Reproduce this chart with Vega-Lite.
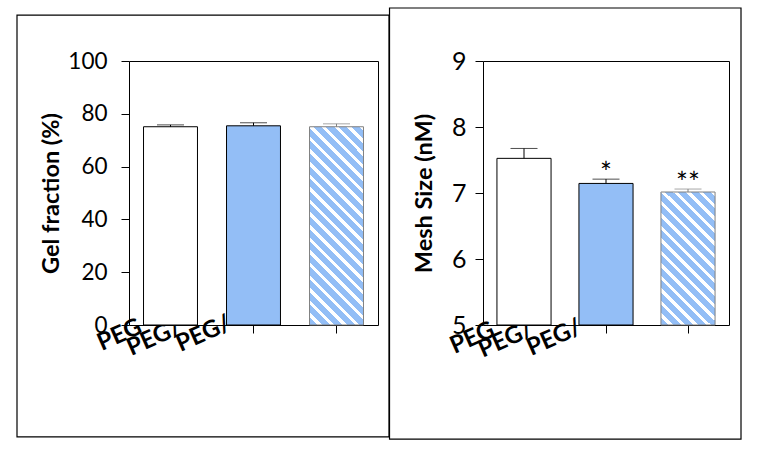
{
  "$schema": "https://vega.github.io/schema/vega-lite/v6.json",
  "padding": {"left": 15, "top": 6, "right": 5, "bottom": 5},
  "background": "white",
  "bounds": "flush",
  "spacing": 105,
  "config": {
    "font": "Lato",
    "view": {"stroke": "black", "strokeWidth": 1},
    "axis": {"labelColor": "black", "titleColor": "black", "tickColor": "black", "grid": false, "domain": false}
  },
  "hconcat": [
    {
      "width": 249,
      "height": 264,
      "resolve": {"scale": {"x": "independent", "y": "independent"}},
      "layer": [
        {
          "data": {"values": [{}]},
          "mark": {"type": "rect", "fill": "transparent", "stroke": "black", "strokeWidth": 1.2},
          "encoding": {
            "x": {"datum": -0.4498, "type": "quantitative", "scale": {"domain": [0, 1], "nice": false, "zero": false}, "axis": null},
            "x2": {"datum": 1.0442},
            "y": {"datum": -0.424, "type": "quantitative", "scale": {"domain": [0, 1], "nice": false, "zero": false}, "axis": null},
            "y2": {"datum": 1.174}
          }
        },
        {
          "data": {"values": [
            {"cat": "PEG", "label": "PEG", "value": 75.1, "err": 75.8, "sig": ""},
            {"cat": "PEG/A", "label": "PEG/", "value": 75.45, "err": 76.6, "sig": ""},
            {"cat": "PEG/B", "label": "PEG/", "value": 75.1, "err": 76.2, "sig": ""}
          ]},
          "encoding": {
            "x": {"field": "cat", "type": "nominal", "sort": null,
              "scale": {"paddingInner": 0.35, "paddingOuter": 0.175},
              "axis": {"title": null, "labels": false, "ticks": true, "tickSize": 8, "values": ["PEG/A", "PEG/B"]}},
            "y": {"field": "value", "type": "quantitative",
              "scale": {"domain": [0, 100], "nice": false, "zero": false},
              "axis": {"title": "Gel fraction (%)", "values": [0, 20, 40, 60, 80, 100], "tickSize": 8,
                "labelFont": "Lato", "labelFontSize": 22.5, "labelPadding": 14,
                "titleFont": "Lato", "titleFontSize": 23.5, "titleFontWeight": "bold", "titlePadding": 4, "zindex": 1}}
          },
          "layer": [
            {
              "transform": [{"filter": "datum.cat == 'PEG'"}],
              "mark": {"type": "text", "angle": 336, "align": "left", "baseline": "alphabetic", "font": "Lato", "fontSize": 24, "fontWeight": "bold", "color": "black", "dx": -73.4, "dy": -4.1},
              "encoding": {"y": {"datum": 0}, "text": {"field": "label"}}
            },
            {
              "transform": [{"filter": "datum.cat == 'PEG/A'"}],
              "mark": {"type": "text", "angle": 336, "align": "left", "baseline": "alphabetic", "font": "Lato", "fontSize": 24, "fontWeight": "bold", "color": "black", "dx": -124.3, "dy": -21.4},
              "encoding": {"y": {"datum": 0}, "text": {"field": "label"}}
            },
            {
              "transform": [{"filter": "datum.cat == 'PEG/B'"}],
              "mark": {"type": "text", "angle": 336, "align": "left", "baseline": "alphabetic", "font": "Lato", "fontSize": 24, "fontWeight": "bold", "color": "black", "dx": -153.5, "dy": -38.7},
              "encoding": {"y": {"datum": 0}, "text": {"field": "label"}}
            },
            {
              "transform": [{"filter": "datum.cat != 'PEG/B'"}],
              "mark": {"type": "bar", "stroke": "black", "strokeWidth": 1},
              "encoding": {
                "y2": {"datum": 0},
                "fill": {"condition": {"test": "datum.cat == 'PEG'", "value": "#ffffff"}, "value": "#93bef6"}
              }
            },
            {
              "transform": [{"filter": "datum.cat == 'PEG/B'"}],
              "mark": {"type": "bar", "stroke": "#808080", "strokeWidth": 1,
                "fill": {"gradient": "linear", "x1": 0, "y1": 1, "x2": 0.3226, "y2": -0.1846, "stops": [
                  {"offset": 0, "color": "#93bef6"}, {"offset": 0.032, "color": "#93bef6"}, {"offset": 0.032, "color": "#ffffff"}, {"offset": 0.05, "color": "#ffffff"},
                  {"offset": 0.05, "color": "#93bef6"}, {"offset": 0.082, "color": "#93bef6"}, {"offset": 0.082, "color": "#ffffff"}, {"offset": 0.1, "color": "#ffffff"},
                  {"offset": 0.1, "color": "#93bef6"}, {"offset": 0.132, "color": "#93bef6"}, {"offset": 0.132, "color": "#ffffff"}, {"offset": 0.15, "color": "#ffffff"},
                  {"offset": 0.15, "color": "#93bef6"}, {"offset": 0.182, "color": "#93bef6"}, {"offset": 0.182, "color": "#ffffff"}, {"offset": 0.2, "color": "#ffffff"},
                  {"offset": 0.2, "color": "#93bef6"}, {"offset": 0.232, "color": "#93bef6"}, {"offset": 0.232, "color": "#ffffff"}, {"offset": 0.25, "color": "#ffffff"},
                  {"offset": 0.25, "color": "#93bef6"}, {"offset": 0.282, "color": "#93bef6"}, {"offset": 0.282, "color": "#ffffff"}, {"offset": 0.3, "color": "#ffffff"},
                  {"offset": 0.3, "color": "#93bef6"}, {"offset": 0.332, "color": "#93bef6"}, {"offset": 0.332, "color": "#ffffff"}, {"offset": 0.35, "color": "#ffffff"},
                  {"offset": 0.35, "color": "#93bef6"}, {"offset": 0.382, "color": "#93bef6"}, {"offset": 0.382, "color": "#ffffff"}, {"offset": 0.4, "color": "#ffffff"},
                  {"offset": 0.4, "color": "#93bef6"}, {"offset": 0.432, "color": "#93bef6"}, {"offset": 0.432, "color": "#ffffff"}, {"offset": 0.45, "color": "#ffffff"},
                  {"offset": 0.45, "color": "#93bef6"}, {"offset": 0.482, "color": "#93bef6"}, {"offset": 0.482, "color": "#ffffff"}, {"offset": 0.5, "color": "#ffffff"},
                  {"offset": 0.5, "color": "#93bef6"}, {"offset": 0.532, "color": "#93bef6"}, {"offset": 0.532, "color": "#ffffff"}, {"offset": 0.55, "color": "#ffffff"},
                  {"offset": 0.55, "color": "#93bef6"}, {"offset": 0.582, "color": "#93bef6"}, {"offset": 0.582, "color": "#ffffff"}, {"offset": 0.6, "color": "#ffffff"},
                  {"offset": 0.6, "color": "#93bef6"}, {"offset": 0.632, "color": "#93bef6"}, {"offset": 0.632, "color": "#ffffff"}, {"offset": 0.65, "color": "#ffffff"},
                  {"offset": 0.65, "color": "#93bef6"}, {"offset": 0.682, "color": "#93bef6"}, {"offset": 0.682, "color": "#ffffff"}, {"offset": 0.7, "color": "#ffffff"},
                  {"offset": 0.7, "color": "#93bef6"}, {"offset": 0.732, "color": "#93bef6"}, {"offset": 0.732, "color": "#ffffff"}, {"offset": 0.75, "color": "#ffffff"},
                  {"offset": 0.75, "color": "#93bef6"}, {"offset": 0.782, "color": "#93bef6"}, {"offset": 0.782, "color": "#ffffff"}, {"offset": 0.8, "color": "#ffffff"},
                  {"offset": 0.8, "color": "#93bef6"}, {"offset": 0.832, "color": "#93bef6"}, {"offset": 0.832, "color": "#ffffff"}, {"offset": 0.85, "color": "#ffffff"},
                  {"offset": 0.85, "color": "#93bef6"}, {"offset": 0.882, "color": "#93bef6"}, {"offset": 0.882, "color": "#ffffff"}, {"offset": 0.9, "color": "#ffffff"},
                  {"offset": 0.9, "color": "#93bef6"}, {"offset": 0.932, "color": "#93bef6"}, {"offset": 0.932, "color": "#ffffff"}, {"offset": 0.95, "color": "#ffffff"},
                  {"offset": 0.95, "color": "#93bef6"}, {"offset": 0.982, "color": "#93bef6"}, {"offset": 0.982, "color": "#ffffff"}, {"offset": 1, "color": "#ffffff"}
                ]}},
              "encoding": {"y2": {"datum": 0}}
            },
            {
              "mark": {"type": "rule", "strokeWidth": 1},
              "encoding": {
                "y2": {"field": "err"},
                "color": {"condition": {"test": "datum.cat == 'PEG/B'", "value": "#808080"}, "value": "black"}
              }
            },
            {
              "mark": {"type": "tick", "size": 27, "thickness": 1, "orient": "horizontal"},
              "encoding": {
                "y": {"field": "err", "type": "quantitative"},
                "color": {"condition": {"test": "datum.cat == 'PEG/B'", "value": "#808080"}, "value": "black"}
              }
            }
          ]
        }
      ]
    },
    {
      "width": 246,
      "height": 264,
      "resolve": {"scale": {"x": "independent", "y": "independent"}},
      "layer": [
        {
          "data": {"values": [{}]},
          "mark": {"type": "rect", "fill": "transparent", "stroke": "black", "strokeWidth": 1.2},
          "encoding": {
            "x": {"datum": -0.38, "type": "quantitative", "scale": {"domain": [0, 1], "nice": false, "zero": false}, "axis": null},
            "x2": {"datum": 1.0488},
            "y": {"datum": -0.432, "type": "quantitative", "scale": {"domain": [0, 1], "nice": false, "zero": false}, "axis": null},
            "y2": {"datum": 1.2008}
          }
        },
        {
          "data": {"values": [
            {"cat": "PEG", "label": "PEG", "value": 7.525, "err": 7.675, "sig": ""},
            {"cat": "PEG/A", "label": "PEG/", "value": 7.145, "err": 7.21, "sig": "*"},
            {"cat": "PEG/B", "label": "PEG/", "value": 7.015, "err": 7.06, "sig": "**"}
          ]},
          "encoding": {
            "x": {"field": "cat", "type": "nominal", "sort": null,
              "scale": {"paddingInner": 0.34, "paddingOuter": 0.17},
              "axis": {"title": null, "labels": false, "ticks": true, "tickSize": 8, "values": ["PEG/A", "PEG/B"]}},
            "y": {"field": "value", "type": "quantitative",
              "scale": {"domain": [5, 9], "nice": false, "zero": false},
              "axis": {"title": "Mesh Size (nM)", "values": [5, 6, 7, 8, 9], "tickSize": 8,
                "labelFont": "Lato", "labelFontSize": 25, "labelPadding": 9,
                "titleFont": "Lato", "titleFontSize": 23.5, "titleFontWeight": "bold", "titlePadding": 15, "zindex": 1}}
          },
          "layer": [
            {
              "transform": [{"filter": "datum.cat == 'PEG'"}],
              "mark": {"type": "text", "angle": 336, "align": "left", "baseline": "alphabetic", "font": "Lato", "fontSize": 24, "fontWeight": "bold", "color": "black", "dx": -75.3, "dy": -1.8},
              "encoding": {"y": {"datum": 5}, "text": {"field": "label"}}
            },
            {
              "transform": [{"filter": "datum.cat == 'PEG/A'"}],
              "mark": {"type": "text", "angle": 336, "align": "left", "baseline": "alphabetic", "font": "Lato", "fontSize": 24, "fontWeight": "bold", "color": "black", "dx": -125.8, "dy": -20.2},
              "encoding": {"y": {"datum": 5}, "text": {"field": "label"}}
            },
            {
              "transform": [{"filter": "datum.cat == 'PEG/B'"}],
              "mark": {"type": "text", "angle": 336, "align": "left", "baseline": "alphabetic", "font": "Lato", "fontSize": 24, "fontWeight": "bold", "color": "black", "dx": -155.8, "dy": -35.5},
              "encoding": {"y": {"datum": 5}, "text": {"field": "label"}}
            },
            {
              "transform": [{"filter": "datum.cat != 'PEG/B'"}],
              "mark": {"type": "bar", "stroke": "black", "strokeWidth": 1},
              "encoding": {
                "y2": {"datum": 5},
                "fill": {"condition": {"test": "datum.cat == 'PEG'", "value": "#ffffff"}, "value": "#93bef6"}
              }
            },
            {
              "transform": [{"filter": "datum.cat == 'PEG/B'"}],
              "mark": {"type": "bar", "stroke": "#808080", "strokeWidth": 1,
                "fill": {"gradient": "linear", "x1": 0, "y1": 1, "x2": 0.4889, "y2": -0.207, "stops": [
                  {"offset": 0, "color": "#93bef6"}, {"offset": 0.0427, "color": "#93bef6"}, {"offset": 0.0427, "color": "#ffffff"}, {"offset": 0.0667, "color": "#ffffff"},
                  {"offset": 0.0667, "color": "#93bef6"}, {"offset": 0.1094, "color": "#93bef6"}, {"offset": 0.1094, "color": "#ffffff"}, {"offset": 0.1333, "color": "#ffffff"},
                  {"offset": 0.1333, "color": "#93bef6"}, {"offset": 0.176, "color": "#93bef6"}, {"offset": 0.176, "color": "#ffffff"}, {"offset": 0.2, "color": "#ffffff"},
                  {"offset": 0.2, "color": "#93bef6"}, {"offset": 0.2427, "color": "#93bef6"}, {"offset": 0.2427, "color": "#ffffff"}, {"offset": 0.2667, "color": "#ffffff"},
                  {"offset": 0.2667, "color": "#93bef6"}, {"offset": 0.3094, "color": "#93bef6"}, {"offset": 0.3094, "color": "#ffffff"}, {"offset": 0.3333, "color": "#ffffff"},
                  {"offset": 0.3333, "color": "#93bef6"}, {"offset": 0.376, "color": "#93bef6"}, {"offset": 0.376, "color": "#ffffff"}, {"offset": 0.4, "color": "#ffffff"},
                  {"offset": 0.4, "color": "#93bef6"}, {"offset": 0.4427, "color": "#93bef6"}, {"offset": 0.4427, "color": "#ffffff"}, {"offset": 0.4667, "color": "#ffffff"},
                  {"offset": 0.4667, "color": "#93bef6"}, {"offset": 0.5094, "color": "#93bef6"}, {"offset": 0.5094, "color": "#ffffff"}, {"offset": 0.5333, "color": "#ffffff"},
                  {"offset": 0.5333, "color": "#93bef6"}, {"offset": 0.576, "color": "#93bef6"}, {"offset": 0.576, "color": "#ffffff"}, {"offset": 0.6, "color": "#ffffff"},
                  {"offset": 0.6, "color": "#93bef6"}, {"offset": 0.6427, "color": "#93bef6"}, {"offset": 0.6427, "color": "#ffffff"}, {"offset": 0.6667, "color": "#ffffff"},
                  {"offset": 0.6667, "color": "#93bef6"}, {"offset": 0.7094, "color": "#93bef6"}, {"offset": 0.7094, "color": "#ffffff"}, {"offset": 0.7333, "color": "#ffffff"},
                  {"offset": 0.7333, "color": "#93bef6"}, {"offset": 0.776, "color": "#93bef6"}, {"offset": 0.776, "color": "#ffffff"}, {"offset": 0.8, "color": "#ffffff"},
                  {"offset": 0.8, "color": "#93bef6"}, {"offset": 0.8427, "color": "#93bef6"}, {"offset": 0.8427, "color": "#ffffff"}, {"offset": 0.8667, "color": "#ffffff"},
                  {"offset": 0.8667, "color": "#93bef6"}, {"offset": 0.9094, "color": "#93bef6"}, {"offset": 0.9094, "color": "#ffffff"}, {"offset": 0.9333, "color": "#ffffff"},
                  {"offset": 0.9333, "color": "#93bef6"}, {"offset": 0.976, "color": "#93bef6"}, {"offset": 0.976, "color": "#ffffff"}, {"offset": 1, "color": "#ffffff"}
                ]}},
              "encoding": {"y2": {"datum": 5}}
            },
            {
              "mark": {"type": "rule", "strokeWidth": 1},
              "encoding": {
                "y2": {"field": "err"},
                "color": {"condition": {"test": "datum.cat == 'PEG/B'", "value": "#808080"}, "value": "black"}
              }
            },
            {
              "mark": {"type": "tick", "size": 27, "thickness": 1, "orient": "horizontal"},
              "encoding": {
                "y": {"field": "err", "type": "quantitative"},
                "color": {"condition": {"test": "datum.cat == 'PEG/B'", "value": "#808080"}, "value": "black"}
              }
            },
            {
              "mark": {"type": "text", "align": "center", "baseline": "alphabetic", "font": "Lato", "fontSize": 28, "color": "black", "dy": 4},
              "encoding": {
                "y": {"field": "err", "type": "quantitative"},
                "text": {"field": "sig"}
              }
            }
          ]
        }
      ]
    }
  ]
}
